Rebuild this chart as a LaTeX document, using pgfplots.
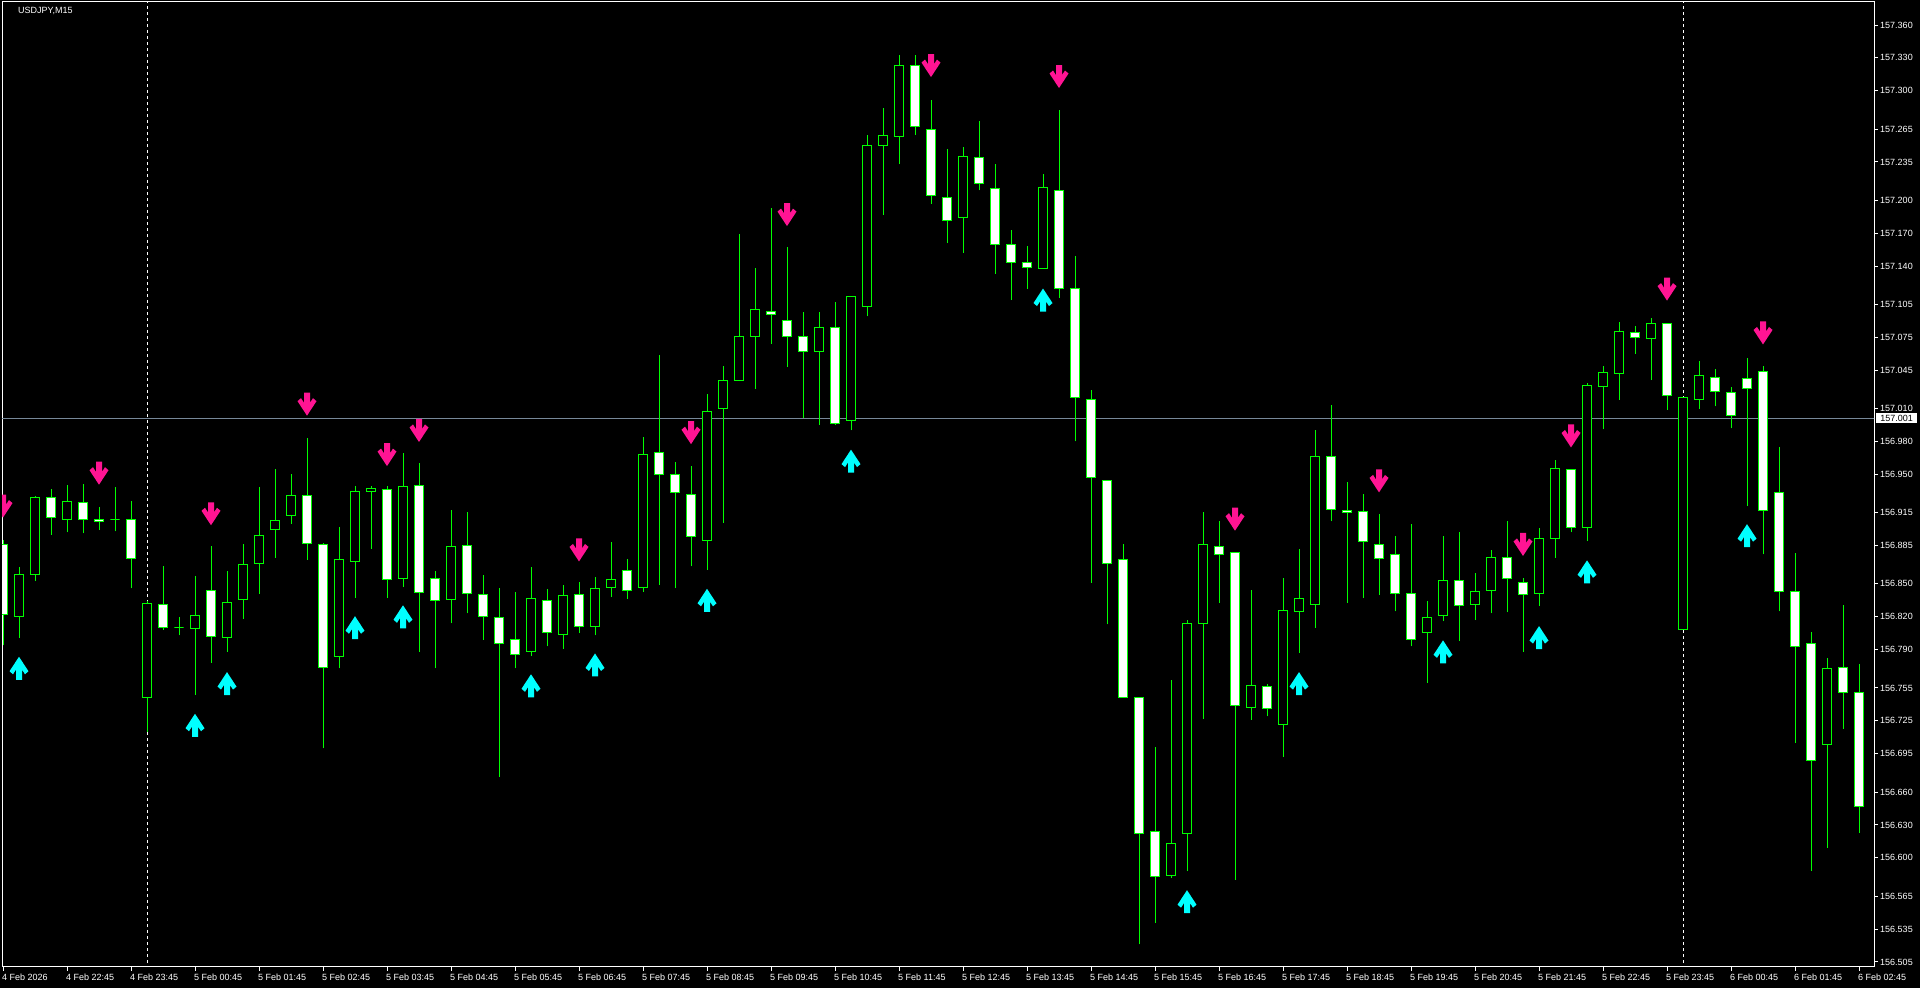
\documentclass[border=0pt]{standalone}
\usepackage{fontspec}
\setmainfont{Liberation Sans}
\usepackage{pgfplots}
\usepackage{pgfplotstable}
\pgfplotsset{compat=1.18}

\definecolor{mtgreen}{RGB}{0,255,0}
\definecolor{arrowpink}{RGB}{255,20,147}
\definecolor{arrowcyan}{RGB}{0,255,255}
\definecolor{bidgray}{RGB}{119,136,153}
\newcommand\lab{\fontsize{9pt}{10pt}\selectfont}

\pgfdeclareplotmark{dnarrow}{%
  \pgfpathmoveto{\pgfqpoint{-3pt}{11.5pt}}%
  \pgfpathlineto{\pgfqpoint{3pt}{11.5pt}}%
  \pgfpathlineto{\pgfqpoint{3pt}{1.4pt}}%
  \pgfpathlineto{\pgfqpoint{6pt}{6pt}}%
  \pgfpathlineto{\pgfqpoint{9.5pt}{3pt}}%
  \pgfpathlineto{\pgfqpoint{0pt}{-11.5pt}}%
  \pgfpathlineto{\pgfqpoint{-9.5pt}{3pt}}%
  \pgfpathlineto{\pgfqpoint{-6pt}{6pt}}%
  \pgfpathlineto{\pgfqpoint{-3pt}{1.4pt}}%
  \pgfpathclose
  \pgfusepath{fill}%
}
\pgfdeclareplotmark{uparrow}{%
  \pgfpathmoveto{\pgfqpoint{-3pt}{-11.5pt}}%
  \pgfpathlineto{\pgfqpoint{3pt}{-11.5pt}}%
  \pgfpathlineto{\pgfqpoint{3pt}{-1.4pt}}%
  \pgfpathlineto{\pgfqpoint{6pt}{-6pt}}%
  \pgfpathlineto{\pgfqpoint{9.5pt}{-3pt}}%
  \pgfpathlineto{\pgfqpoint{0pt}{11.5pt}}%
  \pgfpathlineto{\pgfqpoint{-9.5pt}{-3pt}}%
  \pgfpathlineto{\pgfqpoint{-6pt}{-6pt}}%
  \pgfpathlineto{\pgfqpoint{-3pt}{-1.4pt}}%
  \pgfpathclose
  \pgfusepath{fill}%
}

% n = bar index (15-minute bars from 4 Feb 21:45), O H L C prices
\pgfplotstableread{
n O H L C
0 156.886 156.890 156.794 156.822
1 156.820 156.865 156.801 156.859
2 156.859 156.930 156.853 156.929
3 156.929 156.937 156.895 156.911
4 156.909 156.940 156.897 156.925
5 156.924 156.941 156.896 156.909
6 156.909 156.920 156.899 156.907
7 156.909 156.938 156.898 156.909
8 156.909 156.926 156.846 156.873
9 156.746 156.834 156.715 156.832
10 156.831 156.866 156.808 156.810
11 156.810 156.820 156.803 156.810
12 156.809 156.857 156.749 156.821
13 156.844 156.885 156.778 156.802
14 156.801 156.862 156.788 156.833
15 156.836 156.886 156.818 156.868
16 156.869 156.938 156.841 156.894
17 156.900 156.955 156.874 156.908
18 156.912 156.950 156.905 156.931
19 156.931 156.983 156.872 156.887
20 156.886 156.887 156.700 156.774
21 156.784 156.902 156.773 156.872
22 156.870 156.939 156.837 156.934
23 156.934 156.939 156.882 156.937
24 156.936 156.939 156.837 156.854
25 156.855 156.969 156.847 156.939
26 156.940 156.960 156.788 156.842
27 156.855 156.862 156.773 156.835
28 156.836 156.917 156.814 156.884
29 156.885 156.916 156.823 156.841
30 156.840 156.858 156.799 156.820
31 156.819 156.846 156.674 156.796
32 156.799 156.843 156.773 156.786
33 156.788 156.865 156.784 156.837
34 156.835 156.845 156.793 156.806
35 156.804 156.849 156.791 156.839
36 156.840 156.852 156.805 156.811
37 156.811 156.856 156.803 156.846
38 156.847 156.888 156.838 156.854
39 156.862 156.873 156.836 156.844
40 156.847 156.984 156.843 156.968
41 156.970 157.059 156.849 156.950
42 156.950 156.961 156.846 156.933
43 156.932 156.958 156.866 156.893
44 156.890 157.023 156.863 157.007
45 157.010 157.049 156.906 157.036
46 157.036 157.169 157.035 157.076
47 157.076 157.138 157.028 157.100
48 157.099 157.193 157.069 157.096
49 157.090 157.157 157.048 157.076
50 157.076 157.098 157.001 157.062
51 157.062 157.098 156.995 157.084
52 157.084 157.107 156.995 156.996
53 156.999 157.113 156.990 157.112
54 157.103 157.260 157.094 157.250
55 157.250 157.284 157.187 157.259
56 157.258 157.333 157.233 157.323
57 157.323 157.333 157.260 157.267
58 157.265 157.292 157.197 157.204
59 157.203 157.247 157.161 157.182
60 157.184 157.249 157.152 157.240
61 157.239 157.272 157.209 157.215
62 157.211 157.233 157.133 157.160
63 157.160 157.173 157.109 157.143
64 157.143 157.158 157.119 157.139
65 157.138 157.224 157.138 157.212
66 157.209 157.282 157.111 157.120
67 157.120 157.149 156.980 157.020
68 157.018 157.027 156.851 156.947
69 156.944 156.944 156.813 156.869
70 156.872 156.886 156.746 156.746
71 156.746 156.746 156.521 156.622
72 156.624 156.701 156.541 156.583
73 156.584 156.762 156.582 156.613
74 156.622 156.817 156.588 156.814
75 156.814 156.916 156.727 156.886
76 156.884 156.907 156.833 156.877
77 156.879 156.879 156.580 156.739
78 156.737 156.844 156.726 156.757
79 156.756 156.759 156.729 156.736
80 156.722 156.855 156.692 156.826
81 156.825 156.882 156.787 156.837
82 156.831 156.990 156.810 156.966
83 156.966 157.013 156.907 156.918
84 156.917 156.943 156.833 156.915
85 156.916 156.932 156.837 156.889
86 156.886 156.914 156.840 156.873
87 156.877 156.894 156.825 156.841
88 156.841 156.905 156.793 156.799
89 156.806 156.834 156.760 156.819
90 156.821 156.894 156.816 156.853
91 156.853 156.897 156.798 156.830
92 156.831 156.860 156.817 156.843
93 156.844 156.881 156.823 156.874
94 156.874 156.907 156.824 156.855
95 156.851 156.855 156.788 156.840
96 156.841 156.901 156.830 156.891
97 156.891 156.963 156.874 156.955
98 156.954 156.954 156.897 156.901
99 156.901 157.033 156.889 157.031
100 157.030 157.049 156.991 157.043
101 157.042 157.089 157.018 157.080
102 157.079 157.085 157.060 157.075
103 157.074 157.093 157.036 157.088
104 157.088 157.088 157.009 157.022
105 156.808 157.020 156.808 157.020
106 157.018 157.053 157.010 157.040
107 157.038 157.046 157.012 157.026
108 157.025 157.030 156.992 157.004
109 157.037 157.056 156.921 157.028
110 157.044 157.049 156.877 156.917
111 156.933 156.975 156.825 156.843
112 156.843 156.878 156.705 156.793
113 156.796 156.806 156.588 156.689
114 156.703 156.782 156.609 156.773
115 156.774 156.831 156.718 156.751
116 156.751 156.777 156.623 156.647
}\candles

\pgfplotstableread{
n p
0 156.921
6 156.951
13 156.914
19 157.014
24 156.968
26 156.990
36 156.881
43 156.988
49 157.187
58 157.323
66 157.313
77 156.909
86 156.944
95 156.886
98 156.985
104 157.119
110 157.079
}\dnarrows

\pgfplotstableread{
n p
1 156.773
12 156.721
14 156.759
22 156.810
25 156.820
33 156.757
37 156.776
44 156.835
53 156.962
65 157.109
74 156.560
81 156.759
90 156.788
96 156.801
99 156.861
109 156.894
}\uparrows

\begin{document}
\begin{tikzpicture}
\useasboundingbox (-2pt,-21pt) rectangle (1918pt,967pt);
\fill[black] (-2pt,-21pt) rectangle (1918pt,967pt);
\begin{axis}[
  at={(0pt,0pt)}, anchor=south west,
  scale only axis, width=1872pt, height=965pt,
  xmin=-0.0625, xmax=116.9375,
  ymin=156.5004, ymax=157.3810,
  clip=true, clip marker paths=true,
  axis line style={white, line width=1pt},
  xtick={0,4,...,116},
  xticklabels={4 Feb 2026, 4 Feb 22:45, 4 Feb 23:45,
    5 Feb 00:45, 5 Feb 01:45, 5 Feb 02:45, 5 Feb 03:45, 5 Feb 04:45, 5 Feb 05:45,
    5 Feb 06:45, 5 Feb 07:45, 5 Feb 08:45, 5 Feb 09:45, 5 Feb 10:45, 5 Feb 11:45,
    5 Feb 12:45, 5 Feb 13:45, 5 Feb 14:45, 5 Feb 15:45, 5 Feb 16:45, 5 Feb 17:45,
    5 Feb 18:45, 5 Feb 19:45, 5 Feb 20:45, 5 Feb 21:45, 5 Feb 22:45, 5 Feb 23:45,
    6 Feb 00:45, 6 Feb 01:45, 6 Feb 02:45},
  ytick={156.505,156.535,156.565,156.600,156.630,156.660,156.695,156.725,156.755,
    156.790,156.820,156.850,156.885,156.915,156.950,156.980,157.010,157.045,157.075,
    157.105,157.140,157.170,157.200,157.235,157.265,157.300,157.330,157.360},
  yticklabels={156.505,156.535,156.565,156.600,156.630,156.660,156.695,156.725,156.755,
    156.790,156.820,156.850,156.885,156.915,156.950,156.980,157.010,157.045,157.075,
    157.105,157.140,157.170,157.200,157.235,157.265,157.300,157.330,157.360},
  xtick pos=bottom, ytick pos=right, yticklabel pos=right,
  tick align=outside, major tick length=4pt, minor tick num=0,
  tick style={white, line width=1pt},
  tick label style={font=\lab, text=white, inner sep=0pt},
  xticklabel style={anchor=north west, xshift=-1pt, yshift=-2.5pt},
  yticklabel style={anchor=west, xshift=2pt},
]
% bid line and day separators (behind the candles)
\addplot[bidgray, line width=1pt] coordinates {(-1,157.001) (118,157.001)};
\addplot[white, line width=1pt, dash pattern=on 3pt off 3pt] coordinates {(9,156.40) (9,157.40)};
\addplot[white, line width=1pt, dash pattern=on 3pt off 3pt] coordinates {(105,156.40) (105,157.40)};

% candles
\pgfplotsinvokeforeach{0,...,116}{%
  \pgfplotstablegetelem{#1}{n}\of\candles \let\cN\pgfplotsretval
  \pgfplotstablegetelem{#1}{O}\of\candles \let\cO\pgfplotsretval
  \pgfplotstablegetelem{#1}{H}\of\candles \let\cH\pgfplotsretval
  \pgfplotstablegetelem{#1}{L}\of\candles \let\cL\pgfplotsretval
  \pgfplotstablegetelem{#1}{C}\of\candles \let\cC\pgfplotsretval
  \pgfmathsetmacro\xa{\cN-0.29}%
  \pgfmathsetmacro\xb{\cN+0.29}%
  \ifdim\cC pt<\cO pt \def\bodyfill{white}\else\def\bodyfill{black}\fi
  \edef\doit{%
    \noexpand\addplot[mtgreen, line width=1pt] coordinates {(\cN,\cL) (\cN,\cH)};
    \noexpand\addplot[draw=mtgreen, fill=\bodyfill, line width=1pt] coordinates {(\xa,\cO) (\xb,\cO) (\xb,\cC) (\xa,\cC)} --cycle;
  }%
  \doit
}

% signal arrows
\addplot[only marks, mark=dnarrow, mark options={fill=arrowpink, draw=none}] table[x=n, y=p] {\dnarrows};
\addplot[only marks, mark=uparrow, mark options={fill=arrowcyan, draw=none}] table[x=n, y=p] {\uparrows};
\end{axis}
\node[anchor=west, text=white, inner sep=0pt, font=\lab] at (16pt,956pt) {USDJPY,M15};
\node[fill=white, text=black, inner sep=0pt, minimum height=10pt, minimum width=41pt, anchor=west, font=\lab] at (1874pt,549pt) {157.001};
\end{tikzpicture}
\end{document}
